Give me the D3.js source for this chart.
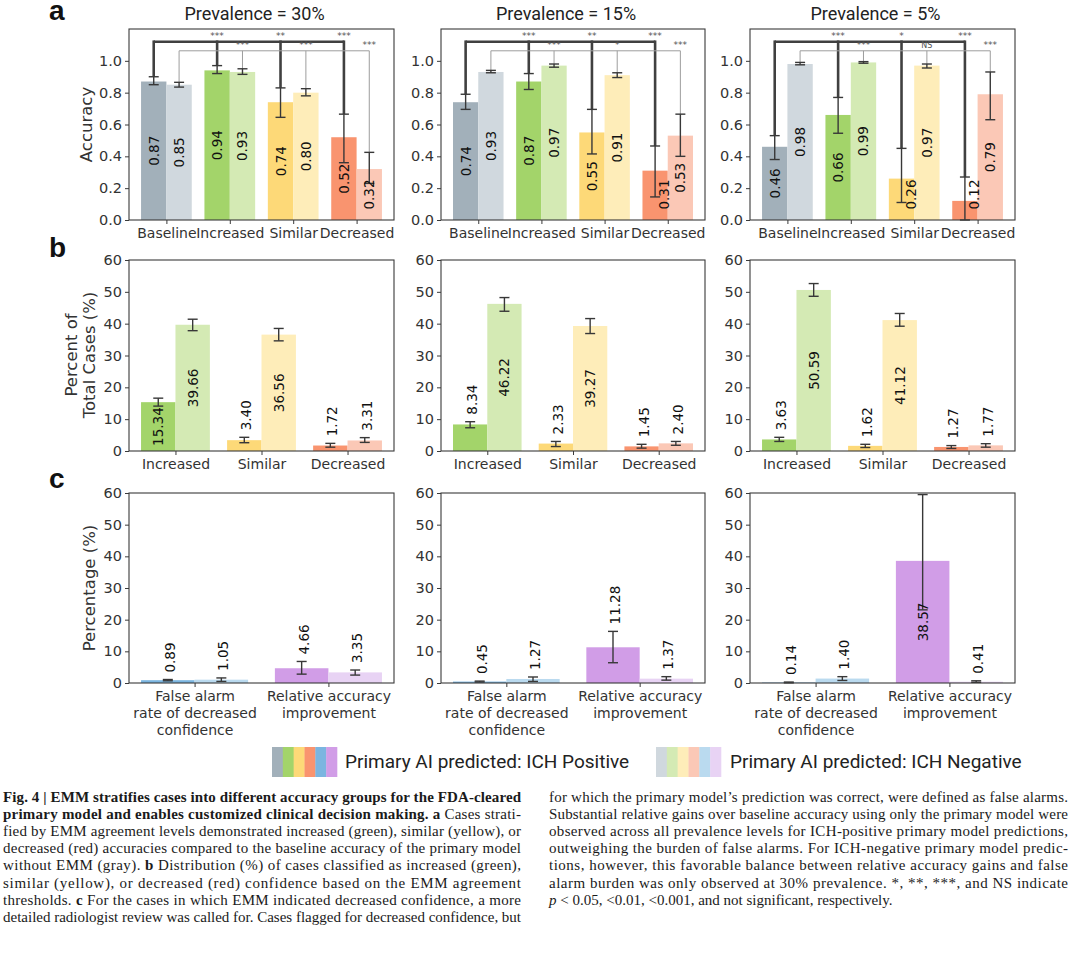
<!DOCTYPE html>
<html>
<head>
<meta charset="utf-8">
<script src="https://cdn.jsdelivr.net/npm/d3@7"></script>
<style>
  body { margin: 0; background: #fff; }
  svg { display: block; }
</style>
</head>
<body>
<svg width="1080" height="955"></svg>
<script>
// ---- data ----
const prevalences = ["Prevalence = 30%", "Prevalence = 15%", "Prevalence = 5%"];

// row a: accuracy
const accCategories = ["Baseline", "Increased", "Similar", "Decreased"];
const accPos   = [[0.87, 0.94, 0.74, 0.52], [0.74, 0.87, 0.55, 0.31], [0.46, 0.66, 0.26, 0.12]];
const accPosLo = [[0.85, 0.92, 0.645, 0.36], [0.695, 0.82, 0.415, 0.145], [0.38, 0.545, 0.11, 0.0]];
const accPosHi = [[0.90, 0.97, 0.83, 0.665], [0.79, 0.92, 0.695, 0.465], [0.53, 0.77, 0.45, 0.27]];
const accNeg   = [[0.85, 0.93, 0.80, 0.32], [0.93, 0.97, 0.91, 0.53], [0.98, 0.99, 0.97, 0.79]];
const accNegLo = [[0.835, 0.915, 0.78, 0.23], [0.925, 0.96, 0.895, 0.40], [0.975, 0.985, 0.955, 0.63]];
const accNegHi = [[0.865, 0.95, 0.825, 0.425], [0.94, 0.98, 0.925, 0.665], [0.99, 0.995, 0.98, 0.93]];
const sigPos = [["***", "**", "***"], ["***", "**", "***"], ["***", "*", "***"]];
const sigNeg = [["***", "***", "***"], ["***", "*", "***"], ["***", "NS", "***"]];

// row b: percent of total cases
const distCategories = ["Increased", "Similar", "Decreased"];
const distPos   = [[15.34, 3.40, 1.72], [8.34, 2.33, 1.45], [3.63, 1.62, 1.27]];
const distPosLo = [[14.1, 2.6, 1.2], [7.3, 1.4, 0.9], [3.0, 1.1, 0.8]];
const distPosHi = [[16.6, 4.3, 2.4], [9.2, 3.0, 2.1], [4.3, 2.1, 1.7]];
const distNeg   = [[39.66, 36.56, 3.31], [46.22, 39.27, 2.40], [50.59, 41.12, 1.77]];
const distNegLo = [[37.8, 34.6, 2.7], [43.9, 36.9, 1.8], [48.6, 39.2, 1.2]];
const distNegHi = [[41.4, 38.5, 4.2], [48.2, 41.6, 3.0], [52.6, 43.2, 2.3]];

// row c: false alarms / relative improvement
const effCategories = [["False alarm", "rate of decreased", "confidence"], ["Relative accuracy", "improvement"]];
const effPos   = [[0.89, 4.66], [0.45, 11.28], [0.14, 38.57]];
const effPosLo = [[0.7, 2.8], [0.3, 6.4], [0.05, 23.1]];
const effPosHi = [[1.1, 6.8], [0.6, 16.3], [0.3, 59.5]];
const effNeg   = [[1.05, 3.35], [1.27, 1.37], [1.40, 0.41]];
const effNegLo = [[0.5, 2.5], [0.5, 0.9], [0.8, 0.2]];
const effNegHi = [[1.6, 4.1], [1.9, 2.0], [2.0, 0.7]];

const accTicks = [0, 0.2, 0.4, 0.6, 0.8, 1.0];
const pctTicks = [0, 10, 20, 30, 40, 50, 60];

const legendLabels = ["Primary AI predicted: ICH Positive", "Primary AI predicted: ICH Negative"];

// ---- colours ----
const gray = ["#a2b0ba", "#d0d8de"], green = ["#a3d46a", "#d4eab4"], yellow = ["#fdd978", "#feedb9"],
      red = ["#f9946f", "#fbc8b6"], blue = ["#7bb5e0", "#badaef"], purple = ["#d19de7", "#e8d3f4"];
const legendPos = [gray[0], green[0], yellow[0], red[0], blue[0], purple[0]];
const legendNeg = [gray[1], green[1], yellow[1], red[1], blue[1], purple[1]];

const svg = d3.select("svg");
const cols = [{x0: 129, x1: 394}, {x0: 441, x1: 705}, {x0: 750, x1: 1015}];
const rows = {a: {y0: 29, y1: 220}, b: {y0: 260, y1: 451}, c: {y0: 493, y1: 683}};
const axisFont = "DejaVu Sans";
const fmt2 = d3.format(".2f");

function drawPanel(o) {
  const col = cols[o.col], row = rows[o.row], n = o.cats.length;
  const pad = 0.05 * (n - 1 + 0.8);
  const x = d3.scaleLinear().domain([-0.4 - pad, n - 1 + 0.4 + pad]).range([col.x0, col.x1]);
  const y = d3.scaleLinear().domain([0, o.yMax]).range([row.y1, row.y0]);
  const g = svg.append("g");

  const bars = [];
  for (let i = 0; i < n; i++) {
    bars.push({i: i, side: 0, v: o.pos[i], lo: o.posLo[i], hi: o.posHi[i], c: o.colors[i][0]});
    bars.push({i: i, side: 1, v: o.neg[i], lo: o.negLo[i], hi: o.negHi[i], c: o.colors[i][1]});
  }
  const cx = d => x(d.i + (d.side ? 0.2 : -0.2));

  g.selectAll("rect.bar").data(bars).enter().append("rect")
    .attr("x", d => x(d.i + (d.side ? 0 : -0.4)))
    .attr("width", x(0.4) - x(0))
    .attr("y", d => y(d.v))
    .attr("height", d => y(0) - y(d.v))
    .attr("fill", d => d.c);

  // significance brackets (row a only)
  if (o.sig) {
    [[0, o.sig[0], 1.12, "#404040", 2.6], [1, o.sig[1], 1.063, "#9d9d9d", 1]].forEach(([side, labs, yl, col, w]) => {
      const legs = bars.filter(d => d.side === side);
      const bg = g.append("g").attr("stroke", col).attr("stroke-width", w).attr("fill", "none");
      bg.append("line").attr("x1", cx(legs[0])).attr("x2", cx(legs[n - 1]))
        .attr("y1", y(yl)).attr("y2", y(yl));
      legs.forEach(d => bg.append("line").attr("x1", cx(d)).attr("x2", cx(d))
        .attr("y1", y(yl) - (w > 2 ? w / 2 : 0)).attr("y2", y(d.hi)));
      legs.slice(1).forEach((d, k) => g.append("text")
        .attr("x", cx(d)).attr("y", y(yl) - 2.5)
        .attr("text-anchor", "middle")
        .attr("font-family", axisFont).attr("font-size", labs[k] === "NS" ? 8 : 9)
        .attr("fill", "#555").text(labs[k]));
    });
  }

  // error bars
  const eb = g.append("g").attr("stroke", "#383838").attr("stroke-width", 1.4);
  bars.forEach(d => {
    eb.append("line").attr("x1", cx(d)).attr("x2", cx(d)).attr("y1", y(d.lo)).attr("y2", y(d.hi));
    [d.lo, d.hi].forEach(v => eb.append("line")
      .attr("x1", cx(d) - 5).attr("x2", cx(d) + 5).attr("y1", y(v)).attr("y2", y(v)));
  });

  // value labels, rotated
  bars.forEach(d => {
    const t = g.append("text")
      .attr("font-family", axisFont).attr("font-size", 13.5).attr("fill", "#111")
      .attr("dominant-baseline", "central").text(fmt2(d.v));
    if (o.row === "a") {
      const yc = y(Math.max(d.v / 2, 0.16));
      const shift = y(d.lo) > yc - 15 + 6 ? 9 : 0;
      t.attr("text-anchor", "middle").attr("transform", `translate(${cx(d) + shift},${yc}) rotate(-90)`);
    } else if (d.v > 12) {
      t.attr("text-anchor", "middle").attr("transform", `translate(${cx(d)},${y(d.v / 2)}) rotate(-90)`);
    } else {
      t.attr("text-anchor", "start").attr("transform", `translate(${cx(d) + 2},${y(d.hi) - 7}) rotate(-90)`);
    }
  });

  // frame
  g.append("rect").attr("x", col.x0).attr("y", row.y0)
    .attr("width", col.x1 - col.x0).attr("height", row.y1 - row.y0)
    .attr("fill", "none").attr("stroke", "#3a3a3a").attr("stroke-width", 1.1);

  // axes
  const ya = g.append("g").attr("transform", `translate(${col.x0},0)`)
    .call(d3.axisLeft(y).tickValues(o.ticks).tickFormat(o.tickFmt).tickSize(4).tickPadding(3));
  ya.select(".domain").remove();
  ya.selectAll("line").attr("stroke", "#3a3a3a");
  ya.selectAll("text").attr("font-family", axisFont).attr("font-size", 14.5).attr("fill", "#333");

  const xa = g.append("g").attr("transform", `translate(0,${row.y1})`)
    .call(d3.axisBottom(x).tickValues(d3.range(n)).tickFormat(() => "").tickSize(4).tickPadding(3));
  xa.select(".domain").remove();
  xa.selectAll("line").attr("stroke", "#3a3a3a");
  xa.selectAll(".tick text").each(function (i) {
    const lines = [].concat(o.cats[i]);
    const t = d3.select(this).attr("y", 18).attr("dy", null)
      .attr("font-family", axisFont).attr("font-size", 14).attr("fill", "#333");
    lines.forEach((s, k) => t.append("tspan").attr("x", 0).attr("y", 18 + k * 17).text(s));
  });
  return g;
}

for (let p = 0; p < 3; p++) {
  drawPanel({col: p, row: "a", cats: accCategories, yMax: 1.2, ticks: accTicks, tickFmt: d3.format(".1f"),
    pos: accPos[p], posLo: accPosLo[p], posHi: accPosHi[p],
    neg: accNeg[p], negLo: accNegLo[p], negHi: accNegHi[p],
    colors: [gray, green, yellow, red], sig: [sigPos[p], sigNeg[p]]});
  drawPanel({col: p, row: "b", cats: distCategories, yMax: 60, ticks: pctTicks, tickFmt: d3.format("d"),
    pos: distPos[p], posLo: distPosLo[p], posHi: distPosHi[p],
    neg: distNeg[p], negLo: distNegLo[p], negHi: distNegHi[p],
    colors: [green, yellow, red]});
  drawPanel({col: p, row: "c", cats: effCategories, yMax: 60, ticks: pctTicks, tickFmt: d3.format("d"),
    pos: effPos[p], posLo: effPosLo[p], posHi: effPosHi[p],
    neg: effNeg[p], negLo: effNegLo[p], negHi: effNegHi[p],
    colors: [blue, purple]});

  svg.append("text")
    .attr("x", (cols[p].x0 + cols[p].x1) / 2 - 7).attr("y", 20)
    .attr("text-anchor", "middle").attr("font-family", "Roboto").attr("font-size", 18)
    .attr("fill", "#222").text(prevalences[p]);
}

// panel letters
[["a", 20], ["b", 257], ["c", 488]].forEach(([s, yy]) => svg.append("text")
  .attr("x", 49).attr("y", yy).attr("font-family", "Liberation Sans").attr("font-weight", "bold")
  .attr("font-size", 28).attr("fill", "#111").text(s));

// y-axis titles
function yTitle(lines, xc, yc) {
  const t = svg.append("text").attr("transform", `translate(${xc},${yc}) rotate(-90)`)
    .attr("text-anchor", "middle").attr("font-family", axisFont).attr("font-size", 16.5).attr("fill", "#333");
  lines.forEach((s, k) => t.append("tspan").attr("x", 0)
    .attr("dy", k ? "1.1em" : (-(lines.length - 1) * 0.55 + 0.35) + "em").text(s));
}
yTitle(["Accuracy"], 86, 124.5);
yTitle(["Percent of", "Total Cases (%)"], 80, 355);
yTitle(["Percentage (%)"], 89, 588);

// legend
[[272, 345, legendPos, legendLabels[0]], [656, 730, legendNeg, legendLabels[1]]].forEach(([sx, tx, cs, lab]) => {
  const sw = 65 / cs.length;
  svg.append("g").selectAll("rect").data(cs).enter().append("rect")
    .attr("x", (d, k) => sx + k * sw).attr("y", 747).attr("width", sw + 0.3).attr("height", 30)
    .attr("fill", d => d);
  svg.append("text").attr("x", tx).attr("y", 768).attr("font-family", "Roboto")
    .attr("font-size", 19).attr("fill", "#222").text(lab);
});

// caption
const capLeft = [
  [["Fig. 4 | EMM stratifies cases into different accuracy groups for the FDA-cleared", "b"]],
  [["primary model and enables customized clinical decision making. a", "b"], [" Cases strati-", ""]],
  [["fied by EMM agreement levels demonstrated increased (green), similar (yellow), or", ""]],
  [["decreased (red) accuracies compared to the baseline accuracy of the primary model", ""]],
  [["without EMM (gray). ", ""], ["b", "b"], [" Distribution (%) of cases classified as increased (green),", ""]],
  [["similar (yellow), or decreased (red) confidence based on the EMM agreement", ""]],
  [["thresholds. ", ""], ["c", "b"], [" For the cases in which EMM indicated decreased confidence, a more", ""]],
  [["detailed radiologist review was called for. Cases flagged for decreased confidence, but", ""]]
];
const capRight = [
  [["for which the primary model\u2019s prediction was correct, were defined as false alarms.", ""]],
  [["Substantial relative gains over baseline accuracy using only the primary model were", ""]],
  [["observed across all prevalence levels for ICH-positive primary model predictions,", ""]],
  [["outweighing the burden of false alarms. For ICH-negative primary model predic-", ""]],
  [["tions, however, this favorable balance between relative accuracy gains and false", ""]],
  [["alarm burden was only observed at 30% prevalence. *, **, ***, and NS indicate", ""]],
  [["p", "i"], [" < 0.05, <0.01, <0.001, and not significant, respectively.", ""]]
];
function caption(lines, x0, x1, justifyLast) {
  lines.forEach((segs, k) => {
    const t = svg.append("text").attr("x", x0).attr("y", 802 + k * 17.1)
      .attr("font-family", "Liberation Serif").attr("font-size", 15).attr("fill", "#1a1a1a")
      .attr("xml:space", "preserve");
    segs.forEach(([s, st]) => t.append("tspan")
      .attr("font-weight", st === "b" ? "bold" : null)
      .attr("font-style", st === "i" ? "italic" : null).text(s));
    if (k < lines.length - 1 || justifyLast)
      t.attr("textLength", x1 - x0).attr("lengthAdjust", "spacing");
  });
}
caption(capLeft, 3, 521, true);
caption(capRight, 549, 1068, false);
</script>
</body>
</html>
